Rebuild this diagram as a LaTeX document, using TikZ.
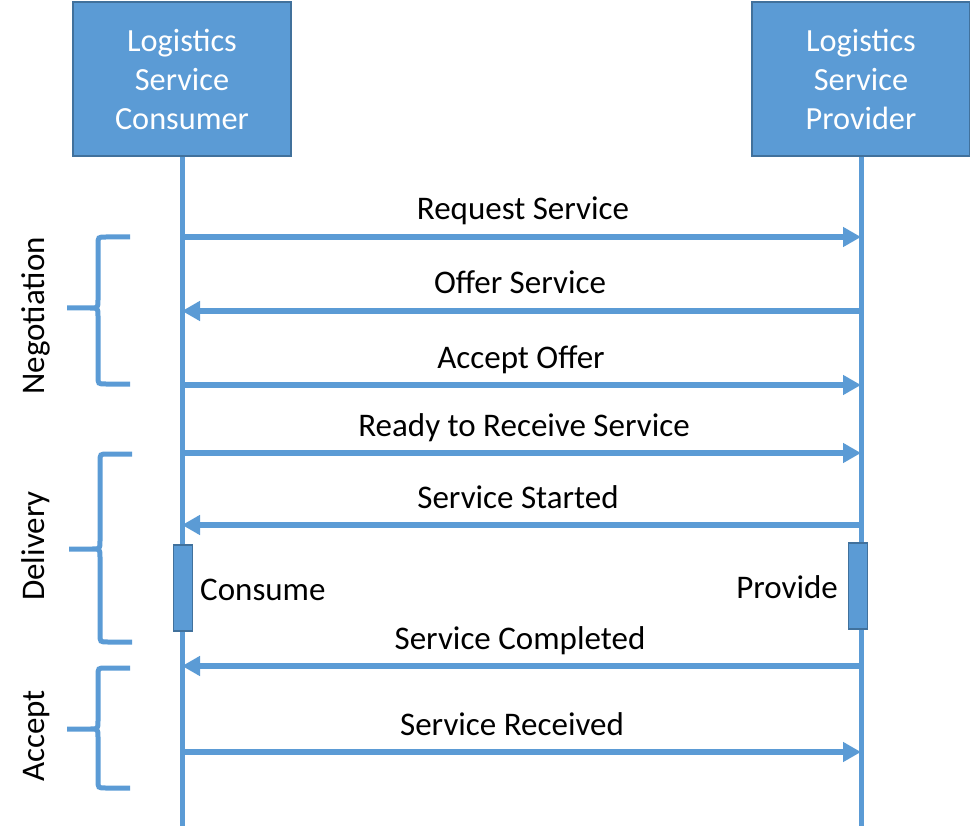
\documentclass[tikz,border=0pt]{standalone}
\usepackage{fontspec}
\setmainfont{Carlito}
\usetikzlibrary{arrows.meta}
\definecolor{bl}{HTML}{5B9BD5}
\definecolor{bd}{HTML}{41719C}
\begin{document}
\begin{tikzpicture}[x=1pt,y=-1pt,
  actor/.style={draw=bd, line width=1.5pt, fill=bl, minimum width=218pt, minimum height=154pt,
    text=white, align=center, font=\fontsize{32.3}{39}\selectfont, inner sep=0pt},
  life/.style={draw=bl, line width=5pt},
  msg/.style={draw=bl, line width=5.5pt, -{Triangle[length=18pt,width=19pt]}},
  lbl/.style={anchor=base, font=\fontsize{33}{38}\selectfont, inner sep=0pt},
  actbar/.style={draw=bd, line width=1.5pt, fill=bl, minimum width=19pt, minimum height=86pt, inner sep=0pt},
  brc/.style={draw=bl, line width=5pt},
  phase/.style={anchor=base, rotate=90, font=\fontsize{33}{38}\selectfont, inner sep=0pt}]
\useasboundingbox (0,0) rectangle (970,829);

% actors
\node[actor] (cons) at (182,79) {Logistics\\Service\\Consumer};
\node[actor] (prov) at (861,79) {Logistics\\Service\\Provider};

% lifelines
\coordinate (cend) at (cons.south |- 0,826);
\coordinate (pend) at (prov.south |- 0,826);
\draw[life] (cons.south) -- (cend);
\draw[life] (prov.south) -- (pend);

% message points
\foreach \n/\y in {1/237,2/311,3/385,4/453,5/525,6/666,7/752}{
  \coordinate (c\n) at (cons.south |- 0,\y);
  \coordinate (p\n) at (prov.south |- 0,\y);
}

% activation bars
\node[actbar] (cact) at (183,588) {};
\node[actbar] (pact) at (858,586) {};
\node[lbl, anchor=base west] (consume) at (200,600) {Consume};
\node[lbl, anchor=base east] (provide) at (838,598) {Provide};

% messages
\draw[msg] (c1) -- (p1);
\node[lbl] (l1) at (523,220) {Request Service};
\draw[msg] (p2) -- (c2);
\node[lbl] (l2) at (520,294) {Offer Service};
\draw[msg] (c3) -- (p3);
\node[lbl] (l3) at (521,368) {Accept Offer};
\draw[msg] (c4) -- (p4);
\node[lbl] (l4) at (524,436) {Ready to Receive Service};
\draw[msg] (p5) -- (c5);
\node[lbl] (l5) at (518,508) {Service Started};
\draw[msg] (p6) -- (c6);
\node[lbl] (l6) at (520,649) {Service Completed};
\draw[msg] (c7) -- (p7);
\node[lbl] (l7) at (512,735) {Service Received};

% braces
\draw[brc] (130,237) -- (106,237) .. controls (98,237) .. (98,245) -- (98,300)
  .. controls (98,308) .. (90,308) -- (67,308) -- (90,308) .. controls (98,308) .. (98,316)
  -- (98,376) .. controls (98,384) .. (106,384) -- (130,384);
\draw[brc] (132,454) -- (108,454) .. controls (100,454) .. (100,462) -- (100,541)
  .. controls (100,549) .. (92,549) -- (69,549) -- (92,549) .. controls (100,549) .. (100,557)
  -- (100,634) .. controls (100,642) .. (108,642) -- (132,642);
\draw[brc] (130,668) -- (106,668) .. controls (98,668) .. (98,676) -- (98,721)
  .. controls (98,729) .. (90,729) -- (67,729) -- (90,729) .. controls (98,729) .. (98,737)
  -- (98,780) .. controls (98,788) .. (106,788) -- (130,788);

% phase labels
\node[phase] (neg) at (44,316) {Negotiation};
\node[phase] (del) at (44,546) {Delivery};
\node[phase] (acc) at (44,736) {Accept};
\end{tikzpicture}
\end{document}
